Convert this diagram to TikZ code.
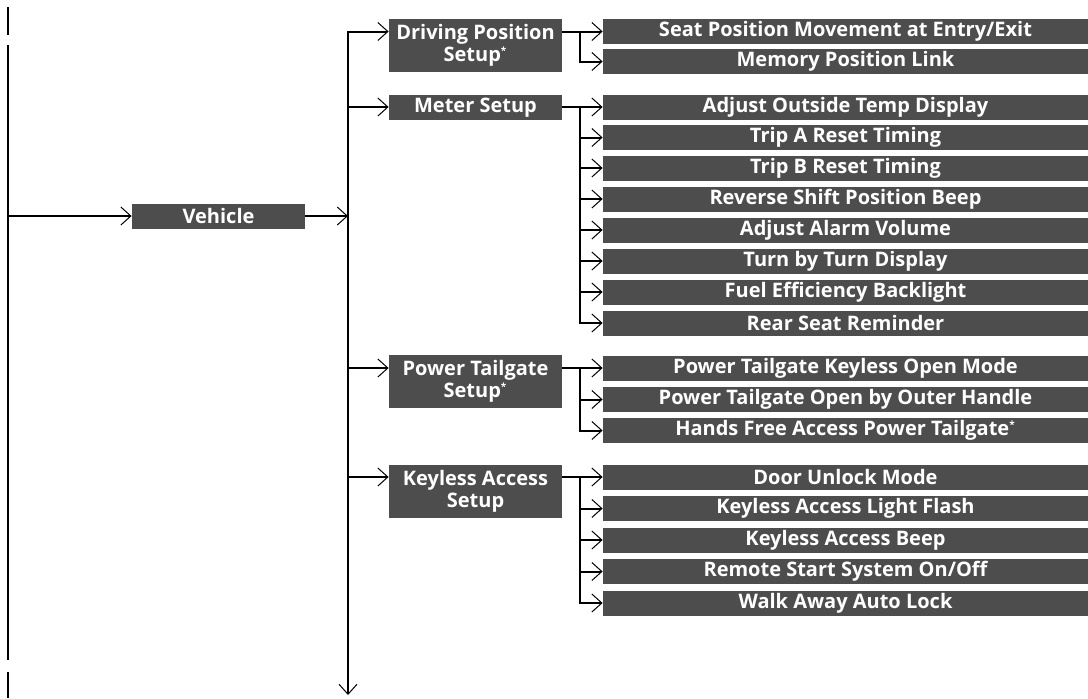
\documentclass[tikz,border=0pt]{standalone}
\usepackage{fontspec}
\setmainfont{Open Sans}
\usepackage{tikz}
\usetikzlibrary{arrows.meta}
\definecolor{boxgray}{HTML}{4D4D4D}
\newcommand{\optmark}{\textsuperscript{\tiny*}}
\tikzset{
  box/.style={fill=boxgray,text=white,font=\fontsize{10}{11}\selectfont\bfseries,inner sep=0pt,align=center},
  menu/.style={box,minimum width=86.5pt,minimum height=12.5pt},
  menutwo/.style={box,minimum width=86.5pt,minimum height=26.5pt},
  item/.style={box,minimum width=242.5pt,minimum height=12.5pt},
  link/.style={black,line width=1pt},
  tip/.style={link,-{Straight Barb[length=5pt,width=9pt,line width=0.5pt]}}
}

\begin{document}
\begin{tikzpicture}[x=0.5pt,y=-0.5pt]
\useasboundingbox (0,0) rectangle (1088,698);
% root line (cut at both ends)
\draw[link] (8,7) -- (8,35);
\draw[link] (8,45) -- (8,660);
\draw[link] (8,672) -- (8,698);
\coordinate (root) at (8,45);
\coordinate (trunk) at (348,0);
\coordinate (trunkend) at (348,695);
\coordinate (fork) at (580,0);

\node[menu] (veh) at (218.5,216) {Vehicle};
\draw[tip] (root |- veh) -- (veh.west);

% second level
\node[menutwo] (dps) at (475.5,45.5) {Driving Position\\Setup\optmark};
\node[menu] (ms) at (475.5,107.5) {Meter Setup};
\node[menutwo] (pts) at (475.5,381.5) {Power Tailgate\\Setup\optmark};
\node[menutwo] (kas) at (475.5,491) {Keyless Access\\Setup};

% third level
\node[item] (dps1) at (845.5,31.5) {Seat Position Movement at Entry/Exit};
\node[item] (dps2) at (845.5,61.5) {Memory Position Link};
\node[item] (ms1) at (845.5,107) {Adjust Outside Temp Display};
\node[item] (ms2) at (845.5,137.5) {Trip A Reset Timing};
\node[item] (ms3) at (845.5,168) {Trip B Reset Timing};
\node[item] (ms4) at (845.5,199) {Reverse Shift Position Beep};
\node[item] (ms5) at (845.5,230) {Adjust Alarm Volume};
\node[item] (ms6) at (845.5,261) {Turn by Turn Display};
\node[item] (ms7) at (845.5,292) {Fuel Efficiency Backlight};
\node[item] (ms8) at (845.5,323) {Rear Seat Reminder};
\node[item] (pts1) at (845.5,368) {Power Tailgate Keyless Open Mode};
\node[item] (pts2) at (845.5,399.5) {Power Tailgate Open by Outer Handle};
\node[item] (pts3) at (845.5,430.5) {Hands Free Access Power Tailgate\optmark};
\node[item] (kas1) at (845.5,477) {Door Unlock Mode};
\node[item] (kas2) at (845.5,508.5) {Keyless Access Light Flash};
\node[item] (kas3) at (845.5,540) {Keyless Access Beep};
\node[item] (kas4) at (845.5,571.5) {Remote Start System On/Off};
\node[item] (kas5) at (845.5,603) {Walk Away Auto Lock};

% trunk
\draw[tip] (veh.east) -- (trunk |- veh);
\draw[tip] (trunk |- veh) |- (dps.west |- dps1);
\draw[tip] (trunk |- veh) -- (trunkend);
\draw[tip] (trunk |- ms1) -- (ms.west |- ms1);
\draw[tip] (trunk |- pts1) -- (pts.west |- pts1);
\draw[tip] (trunk |- kas1) -- (kas.west |- kas1);

% Driving Position Setup
\draw[tip] (dps.east |- dps1) -- (dps1.west);
\draw[tip] (fork |- dps1) |- (dps2.west);

% Meter Setup
\draw[tip] (ms.east |- ms1) -- (ms1.west);
\draw[tip] (fork |- ms1) |- (ms8.west);
\draw[tip] (fork |- ms2) -- (ms2.west);
\draw[tip] (fork |- ms3) -- (ms3.west);
\draw[tip] (fork |- ms4) -- (ms4.west);
\draw[tip] (fork |- ms5) -- (ms5.west);
\draw[tip] (fork |- ms6) -- (ms6.west);
\draw[tip] (fork |- ms7) -- (ms7.west);

% Power Tailgate Setup
\draw[tip] (pts.east |- pts1) -- (pts1.west);
\draw[tip] (fork |- pts1) |- (pts3.west);
\draw[tip] (fork |- pts2) -- (pts2.west);

% Keyless Access Setup
\draw[tip] (kas.east |- kas1) -- (kas1.west);
\draw[tip] (fork |- kas1) |- (kas5.west);
\draw[tip] (fork |- kas2) -- (kas2.west);
\draw[tip] (fork |- kas3) -- (kas3.west);
\draw[tip] (fork |- kas4) -- (kas4.west);
\end{tikzpicture}
\end{document}
